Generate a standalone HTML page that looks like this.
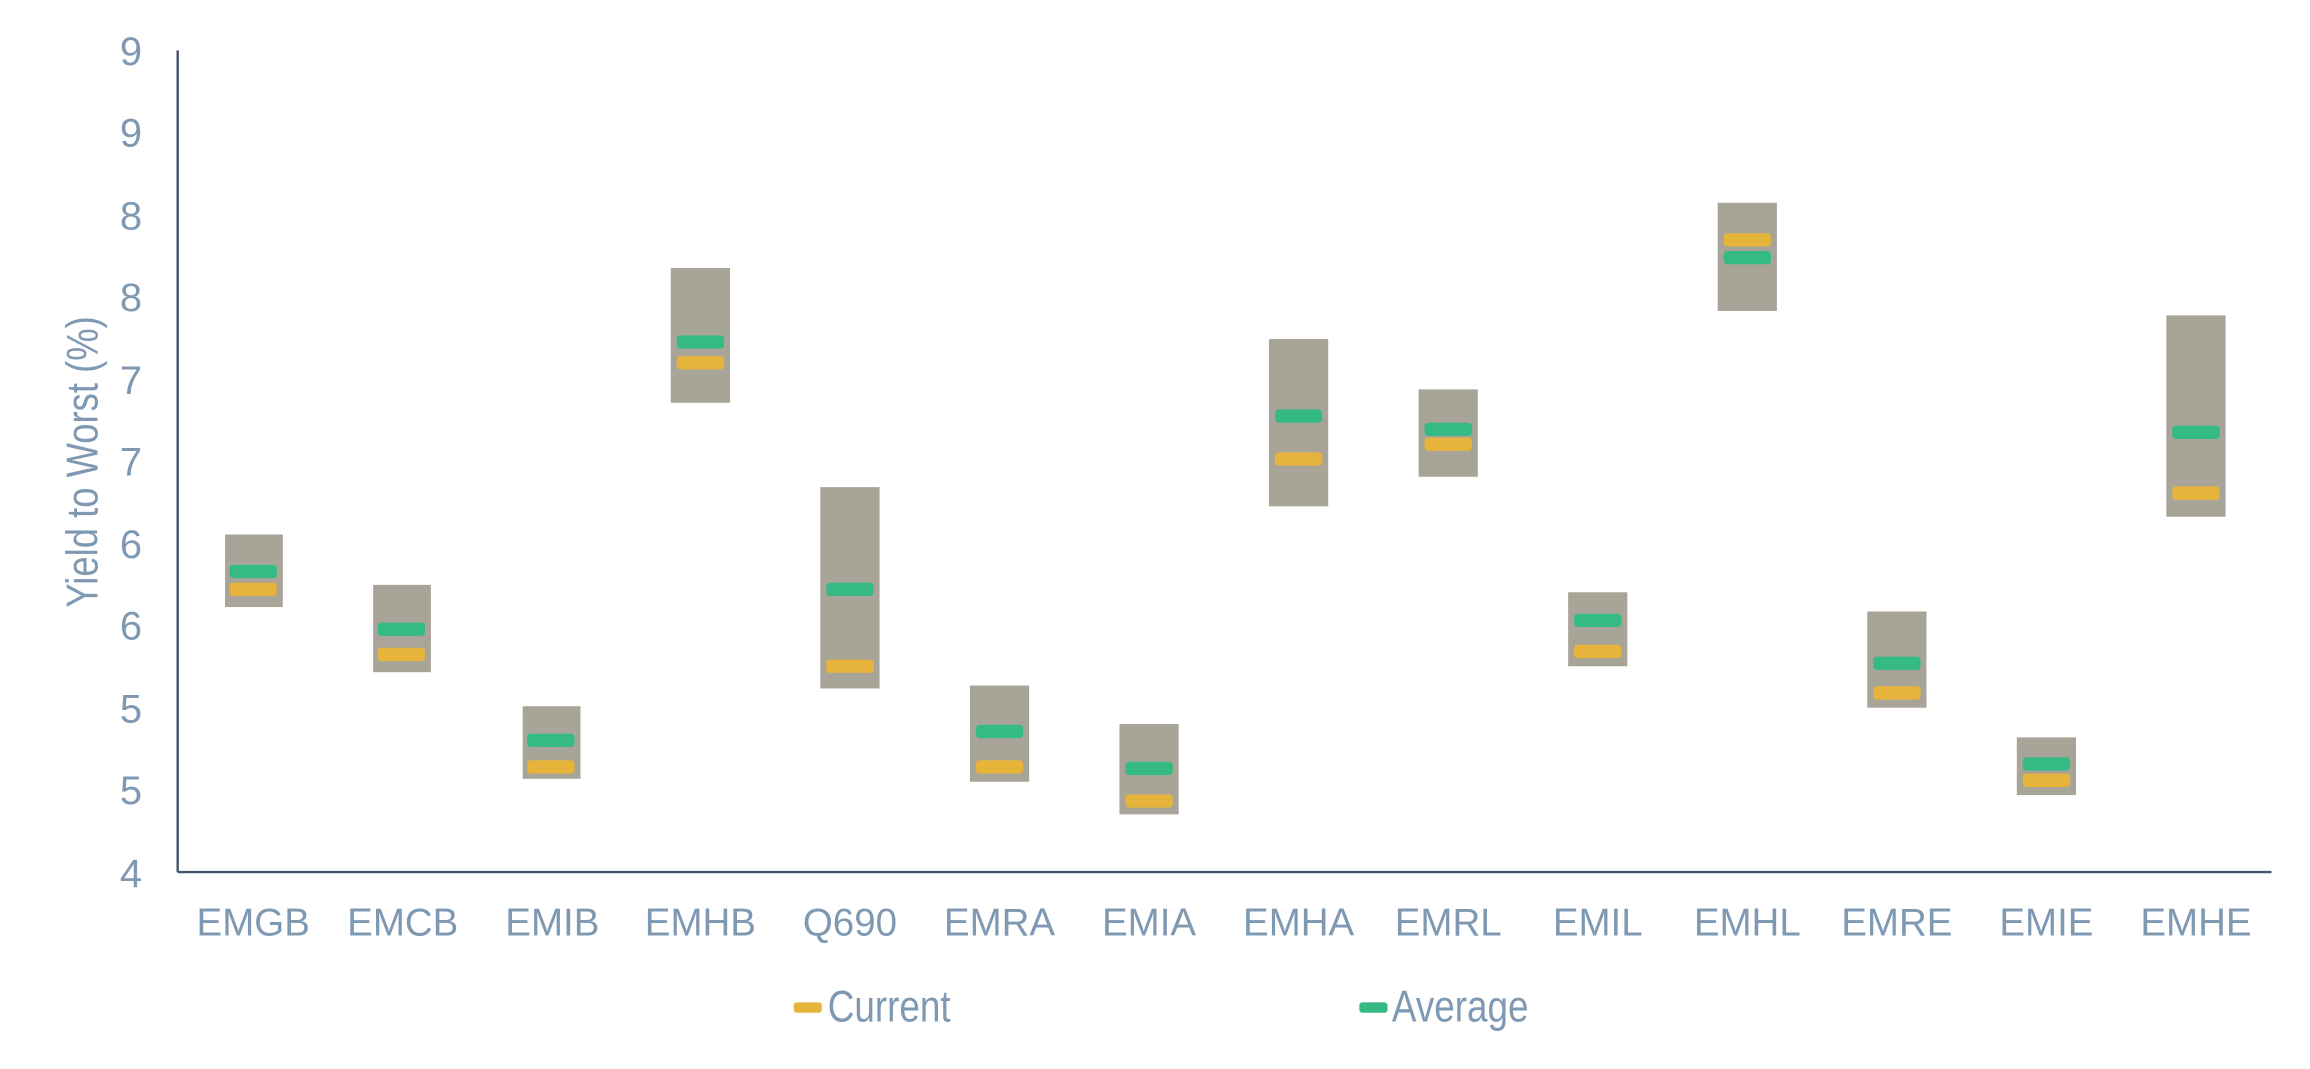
<!DOCTYPE html>
<html><head><meta charset="utf-8"><style>
html,body{margin:0;padding:0;background:#fff;}
svg{display:block;}
text{font-family:"Liberation Sans",sans-serif;fill:#7f99b3;}
</style></head><body>
<svg width="2310" height="1069" viewBox="0 0 1560 722" preserveAspectRatio="none" xmlns="http://www.w3.org/2000/svg">
<g font-size="27" text-anchor="end">
<text x="96" y="44">9</text>
<text x="96" y="99">9</text>
<text x="96" y="155">8</text>
<text x="96" y="210">8</text>
<text x="96" y="266">7</text>
<text x="96" y="321">7</text>
<text x="96" y="377">6</text>
<text x="96" y="432">6</text>
<text x="96" y="488">5</text>
<text x="96" y="543">5</text>
<text x="96" y="599">4</text>
</g>
<text transform="translate(66,312) rotate(-90) scale(0.82,1)" font-size="30" text-anchor="middle">Yield to Worst (%)</text>
<g fill="#a8a498">
<rect x="152" y="361" width="39" height="49"/>
<rect x="252" y="395" width="39" height="59"/>
<rect x="353" y="477" width="39" height="49"/>
<rect x="453" y="181" width="40" height="91"/>
<rect x="554" y="329" width="40" height="136"/>
<rect x="655" y="463" width="40" height="65"/>
<rect x="756" y="489" width="40" height="61"/>
<rect x="857" y="229" width="40" height="113"/>
<rect x="958" y="263" width="40" height="59"/>
<rect x="1059" y="400" width="40" height="50"/>
<rect x="1160" y="137" width="40" height="73"/>
<rect x="1261" y="413" width="40" height="65"/>
<rect x="1362" y="498" width="40" height="39"/>
<rect x="1463" y="213" width="40" height="136"/>
</g>
<g fill="#e6b43a">
<rect x="155" y="393.5" width="32" height="9" rx="2.5"/>
<rect x="255" y="437.5" width="32" height="9" rx="2.5"/>
<rect x="356" y="513.5" width="32" height="9" rx="2.5"/>
<rect x="457" y="240.5" width="32" height="9" rx="2.5"/>
<rect x="558" y="445.5" width="32" height="9" rx="2.5"/>
<rect x="659" y="513.5" width="32" height="9" rx="2.5"/>
<rect x="760" y="536.5" width="32" height="9" rx="2.5"/>
<rect x="861" y="305.5" width="32" height="9" rx="2.5"/>
<rect x="962" y="295.5" width="32" height="9" rx="2.5"/>
<rect x="1063" y="435.5" width="32" height="9" rx="2.5"/>
<rect x="1164" y="157.5" width="32" height="9" rx="2.5"/>
<rect x="1265" y="463.5" width="32" height="9" rx="2.5"/>
<rect x="1366" y="522.5" width="32" height="9" rx="2.5"/>
<rect x="1467" y="328.5" width="32" height="9" rx="2.5"/>
</g>
<g fill="#35b985">
<rect x="155" y="381.5" width="32" height="9" rx="2.5"/>
<rect x="255" y="420.5" width="32" height="9" rx="2.5"/>
<rect x="356" y="495.5" width="32" height="9" rx="2.5"/>
<rect x="457" y="226.5" width="32" height="9" rx="2.5"/>
<rect x="558" y="393.5" width="32" height="9" rx="2.5"/>
<rect x="659" y="489.5" width="32" height="9" rx="2.5"/>
<rect x="760" y="514.5" width="32" height="9" rx="2.5"/>
<rect x="861" y="276.5" width="32" height="9" rx="2.5"/>
<rect x="962" y="285.5" width="32" height="9" rx="2.5"/>
<rect x="1063" y="414.5" width="32" height="9" rx="2.5"/>
<rect x="1164" y="169.5" width="32" height="9" rx="2.5"/>
<rect x="1265" y="443.5" width="32" height="9" rx="2.5"/>
<rect x="1366" y="511.5" width="32" height="9" rx="2.5"/>
<rect x="1467" y="287.5" width="32" height="9" rx="2.5"/>
</g>
<line x1="120" y1="34" x2="120" y2="589" stroke="#44546a" stroke-width="1.6"/>
<line x1="120" y1="589" x2="1534" y2="589" stroke="#44546a" stroke-width="1.6"/>
<g font-size="26" text-anchor="middle">
<text x="171" y="632">EMGB</text>
<text x="272" y="632">EMCB</text>
<text x="373" y="632">EMIB</text>
<text x="473" y="632">EMHB</text>
<text x="574" y="632">Q690</text>
<text x="675" y="632">EMRA</text>
<text x="776" y="632">EMIA</text>
<text x="877" y="632">EMHA</text>
<text x="978" y="632">EMRL</text>
<text x="1079" y="632">EMIL</text>
<text x="1180" y="632">EMHL</text>
<text x="1281" y="632">EMRE</text>
<text x="1382" y="632">EMIE</text>
<text x="1483" y="632">EMHE</text>
</g>
<rect x="536" y="677" width="19" height="7" rx="2" fill="#e6b43a"/>
<text x="559" y="690" font-size="30" transform="translate(559,0) scale(0.83,1) translate(-559,0)">Current</text>
<rect x="918" y="677" width="19" height="7" rx="2" fill="#35b985"/>
<text x="940" y="690" font-size="30" transform="translate(940,0) scale(0.83,1) translate(-940,0)">Average</text>
</svg>
</body></html>
